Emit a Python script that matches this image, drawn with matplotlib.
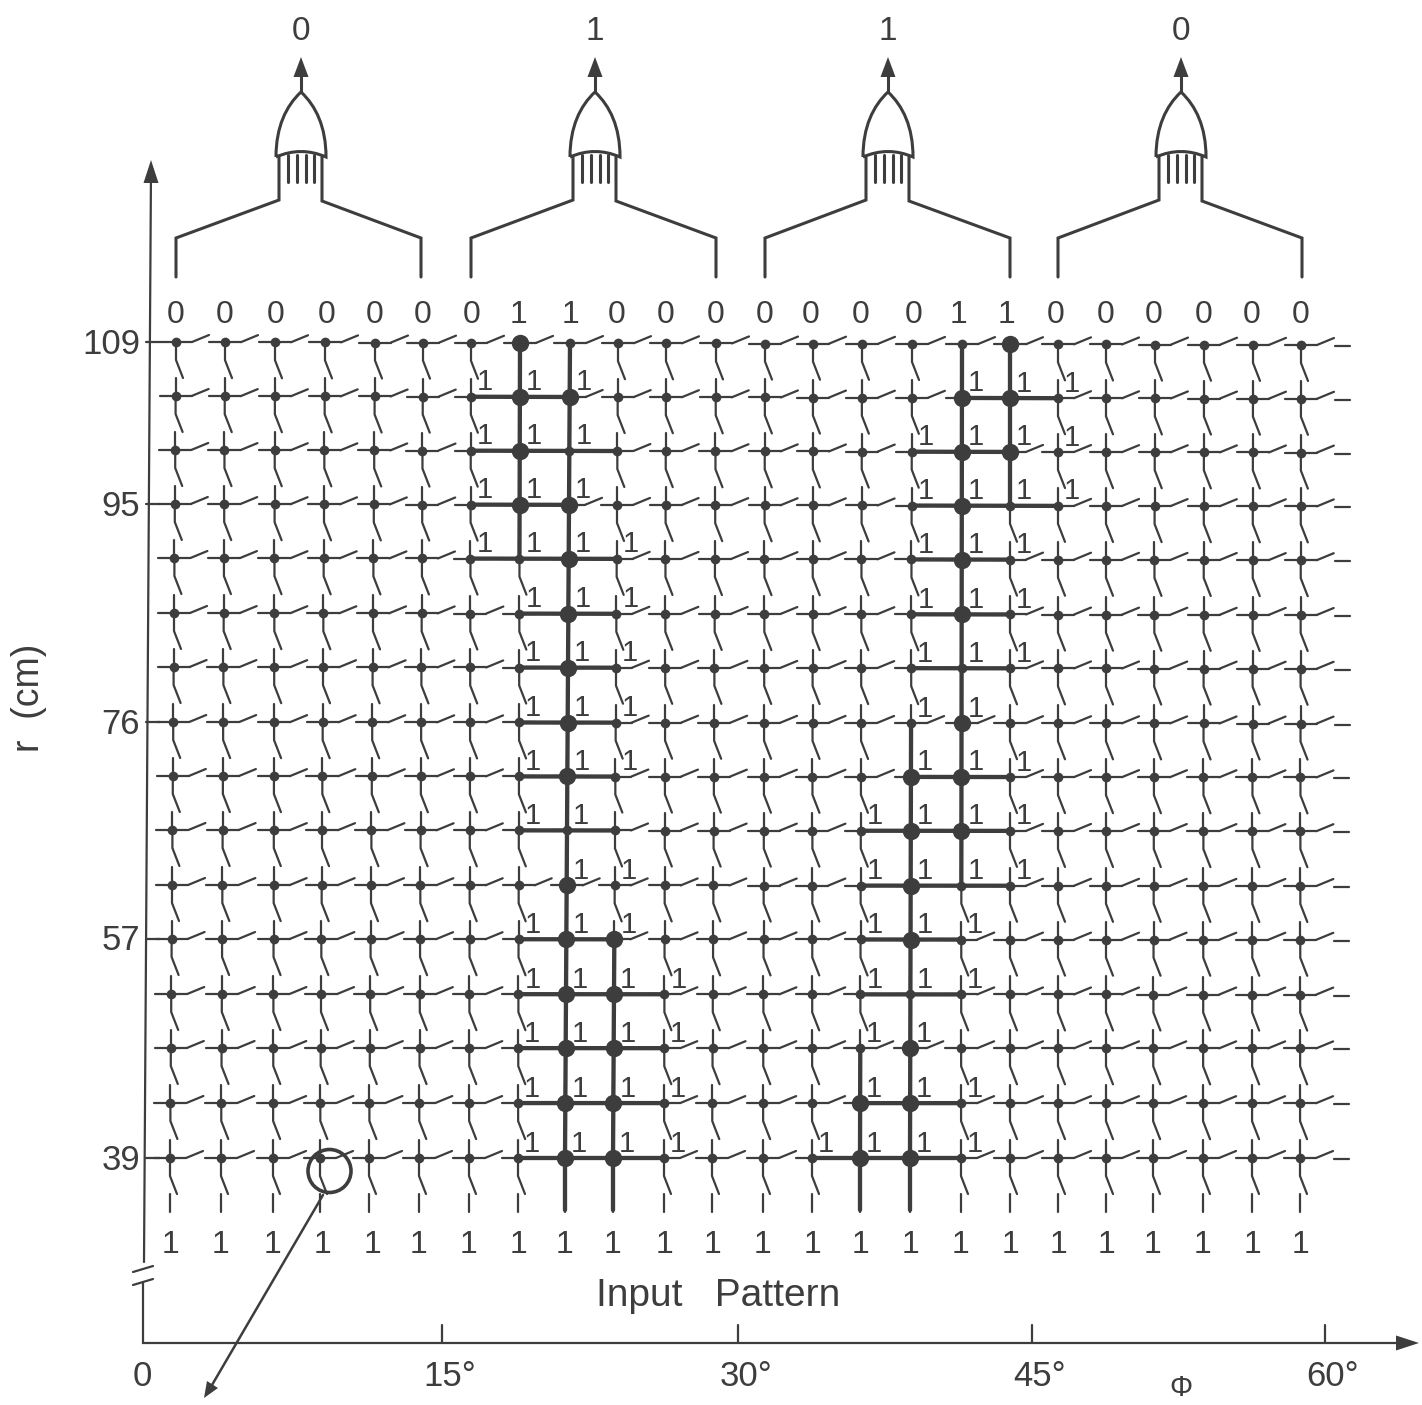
import matplotlib
matplotlib.use('Agg')
import matplotlib.pyplot as plt
from matplotlib.path import Path
from matplotlib.patches import PathPatch, Circle

INK = '#3d3d3d'
plt.rcParams['font.family'] = ['Liberation Sans', 'DejaVu Sans']

# Column and row positions (pixels)
col_top = [176, 225, 275, 325, 375, 423, 471, 520, 570, 618, 666, 716,
           765, 813, 862, 912, 962, 1010, 1058, 1106, 1155, 1204, 1253, 1301]
col_bot = [170, 221, 273, 320, 369, 419, 469, 518, 565, 613, 664, 712,
           763, 812, 860, 910, 961, 1010, 1058, 1106, 1153, 1203, 1252, 1300]
row_y = [342, 396, 450, 504, 558, 613, 667, 722, 776, 830, 885, 939, 994, 1048, 1103, 1158]

top_bits = [0, 0, 0, 0, 0, 0, 0, 1, 1, 0, 0, 0, 0, 0, 0, 0, 1, 1, 0, 0, 0, 0, 0, 0]
top_bit_x = [176, 225, 276, 327, 375, 423, 472, 519, 570, 617, 666, 716,
             765, 811, 861, 914, 958, 1007, 1056, 1106, 1154, 1204, 1252, 1301]
bottom_bit_x = [170, 221, 273, 322, 372, 419, 469, 518, 565, 613, 664, 712,
                763, 812, 860, 910, 961, 1010, 1058, 1106, 1153, 1203, 1252, 1300]

outputs = [0, 1, 1, 0]
gate_x = [301, 595, 888, 1181]
gate_left = [176, 471, 765, 1058]
gate_right = [421, 716, 1010, 1302]

r_ticks = [109, 95, 76, 57, 39]
r_tick_rows = [0, 3, 7, 11, 15]
phi_labels = ['15°', '30°', '45°', '60°']
phi_x = [442, 738, 1032, 1325]

# Closed switches: horizontal wires (row, first col, last col)
hot_rows = [(1, 6, 8), (2, 6, 9), (3, 6, 8), (4, 6, 9), (5, 7, 9), (6, 7, 9), (7, 7, 9),
            (8, 7, 9), (9, 7, 9), (11, 7, 9), (12, 7, 10), (13, 7, 10), (14, 7, 10), (15, 7, 10),
            (1, 16, 18), (2, 15, 17), (3, 15, 18), (4, 15, 17), (5, 15, 17), (6, 15, 17),
            (8, 15, 17), (9, 14, 17), (10, 14, 17), (11, 14, 16), (12, 14, 16),
            (14, 14, 16), (15, 13, 16)]
# Vertical wires (col, first row, last row); last row 16 runs down to the input
hot_cols = [(7, 0, 4), (8, 0, 16), (9, 11, 16), (14, 13, 16), (15, 7, 16), (16, 0, 10), (17, 0, 3)]

# Hits: row -> columns with a big dot
hits = {0: [7, 17], 1: [7, 8, 16, 17], 2: [7, 16, 17], 3: [7, 8, 16], 4: [8, 16], 5: [8, 16],
        6: [8], 7: [8, 16], 8: [8, 15, 16], 9: [15, 16], 10: [8, 15], 11: [8, 9, 15],
        12: [8, 9], 13: [8, 9, 15], 14: [8, 9, 14, 15], 15: [8, 9, 14, 15]}

# The small "1" labels in the gap above each row
ones = {1: [6, 7, 8, 16, 17, 18], 2: [6, 7, 8, 15, 16, 17, 18], 3: [6, 7, 8, 15, 16, 17, 18],
        4: [6, 7, 8, 9, 15, 16, 17], 5: [7, 8, 9, 15, 16, 17], 6: [7, 8, 9, 15, 16, 17],
        7: [7, 8, 9, 15, 16], 8: [7, 8, 9, 15, 16, 17], 9: [7, 8, 14, 15, 16, 17],
        10: [8, 9, 14, 15, 16, 17], 11: [7, 8, 9, 14, 15, 16], 12: [7, 8, 9, 10, 14, 15, 16],
        13: [7, 8, 9, 10, 14, 15], 14: [7, 8, 9, 10, 14, 15, 16], 15: [7, 8, 9, 10, 13, 14, 15, 16]}


def px(c, r):
    return col_top[c] + (col_bot[c] - col_top[c]) * r / 15


def py(c, r):
    return row_y[r] + 3 * (c / 23) * (1 - r / 15)


fig = plt.figure(figsize=(14.22, 14.05), dpi=100)
ax = fig.add_axes([0, 0, 1, 1])
ax.set_xlim(0, 1422)
ax.set_ylim(1405, 0)
ax.axis('off')

THIN = 1.6
THICK = 3.1
GATE = 2.2


def line(xs, ys, lw=THIN):
    ax.plot(xs, ys, color=INK, lw=lw, solid_capstyle='round', solid_joinstyle='miter')


closed_h = set()
for r, a, b in hot_rows:
    for c in range(a, b):
        closed_h.add((r, c))
closed_v = set()
for c, a, b in hot_cols:
    for r in range(a, b):
        closed_v.add((c, r))

# Switch matrix
for r in range(16):
    for c in range(24):
        x, y = px(c, r), py(c, r)
        # horizontal stub and open switch
        line([x - 16, x + 16], [y, y])
        if (r, c) not in closed_h:
            line([x + 16, x + 33], [y, y - 7])
        if c == 23:
            line([x + 34, x + 49], [y + 1, y + 1])
        # vertical stub and open switch
        if r > 0:
            line([x, x], [y - 18, y])
        if (c, r) not in closed_v:
            line([x, x, x + 7], [y, y + 18, y + 36])
        ax.plot(x, y, 'o', color=INK, ms=7, mew=0)

# Bottom stubs under the last row
for c in range(24):
    x = px(c, 15)
    line([x, x], [1194, 1212])

# Closed wires
for r, a, b in hot_rows:
    line([px(a, r), px(b, r)], [py(a, r), py(b, r)], THICK)
for c, a, b in hot_cols:
    end = min(b, 15)
    xs = [px(c, a), px(c, end)]
    ys = [py(c, a), py(c, end)]
    if b == 16:
        xs.append(px(c, 15))
        ys.append(1210)
    line(xs, ys, THICK)

for r, cols in hits.items():
    for c in cols:
        ax.plot(px(c, r), py(c, r), 'o', color=INK, ms=12.5, mew=0)

for r, cols in ones.items():
    for c in cols:
        ax.text(px(c, r) + 14, py(c, r) - 14.5, '1', color=INK, fontsize=21,
                ha='center', va='center')

# Bit labels
for x, bit in zip(top_bit_x, top_bits):
    ax.text(x, 315, str(bit), color=INK, fontsize=23, ha='center', va='center')
for x in bottom_bit_x:
    ax.text(x, 1245, '1', color=INK, fontsize=23, ha='center', va='center')

# OR gates
for gx, left, right, out in zip(gate_x, gate_left, gate_right, outputs):
    verts = [(gx - 25, 157), (gx - 25, 127), (gx - 15, 106), (gx, 92),
             (gx + 15, 106), (gx + 25, 127), (gx + 25, 157),
             (gx, 146), (gx - 25, 157)]
    codes = [Path.MOVETO, Path.CURVE4, Path.CURVE4, Path.CURVE4,
             Path.CURVE4, Path.CURVE4, Path.CURVE4, Path.CURVE3, Path.CURVE3]
    ax.add_patch(PathPatch(Path(verts, codes), fc='white', ec=INK, lw=GATE))
    line([gx, gx], [92, 72], GATE)
    ax.fill([gx, gx - 7.5, gx + 7.5], [57, 77, 77], color=INK, lw=0)
    for dx in [-13, -4.5, 4.5, 13]:
        line([gx + dx, gx + dx], [155, 182], GATE)
    line([left, left, gx - 22, gx - 22], [277, 238, 200, 157], GATE)
    line([right, right, gx + 21, gx + 21], [277, 238, 201, 157], GATE)
    ax.text(gx, 31, str(out), color=INK, fontsize=24, ha='center', va='center')

# Axes
line([144, 151], [1262, 170])
ax.fill([151, 143.5, 158.5], [160, 183, 183], color=INK, lw=0)
line([133, 153], [1272, 1266])
line([133, 153], [1285, 1279])
line([143, 143, 1400], [1283, 1343, 1343])
ax.fill([1419, 1396, 1396], [1343, 1335.5, 1350.5], color=INK, lw=0)

for lab, r in zip(r_ticks, r_tick_rows):
    y = row_y[r]
    line([146, 160], [y, y])
    ax.text(140, y + 2, str(lab), color=INK, fontsize=25, ha='right', va='center')
for lab, x in zip(phi_labels, phi_x):
    line([x, x], [1343, 1325])
    ax.text(x + 8, 1377, lab, color=INK, fontsize=25, ha='center', va='center')
ax.text(142, 1377, '0', color=INK, fontsize=25, ha='center', va='center')
ax.text(1181, 1388, 'Φ', color=INK, fontsize=21, ha='center', va='center')
ax.text(29, 698, 'r  (cm)', color=INK, fontsize=27, rotation=90, ha='center', va='center')
ax.text(718, 1296, 'Input   Pattern', color=INK, fontsize=28, ha='center', va='center')

# Circled switch and arrow out of it
ax.add_patch(Circle((329.5, 1171), 21.5, fc='none', ec=INK, lw=2.6))
line([323, 212], [1195, 1385], 1.8)
ax.fill([204, 207, 218], [1398, 1381, 1388], color=INK, lw=0)

fig.savefig('out.png', dpi=100)
